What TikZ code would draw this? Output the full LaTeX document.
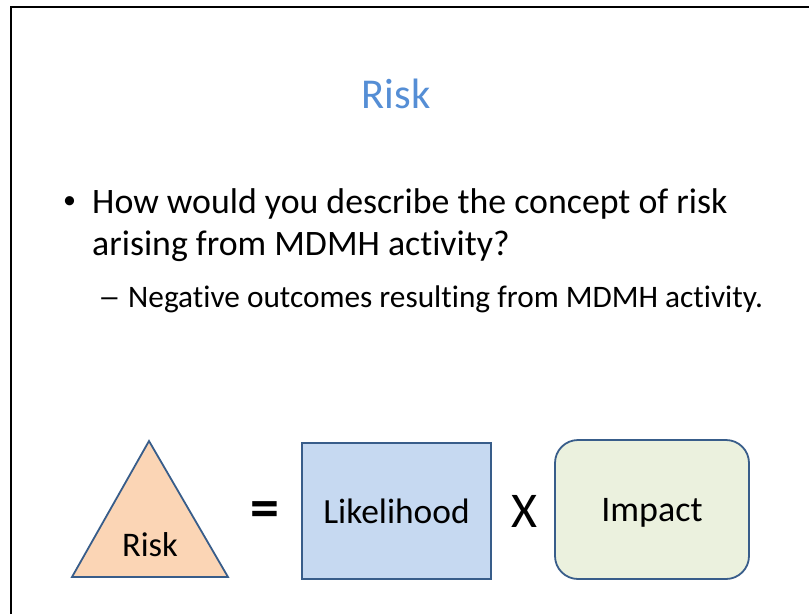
\documentclass[tikz,border=0pt]{standalone}
\usepackage{fontspec}
\setmainfont{Carlito}[Ligatures={NoCommon}]
\usepackage{xcolor}
\definecolor{titleblue}{RGB}{85,142,213}
\definecolor{edgeblue}{RGB}{56,93,138}
\definecolor{peach}{RGB}{251,213,181}
\definecolor{paleblue}{RGB}{198,217,241}
\definecolor{palegreen}{RGB}{235,241,222}

\begin{document}
\begin{tikzpicture}[
  x=1pt, y=-1pt,
  frame/.style={line width=2.2pt},
  bodytext/.style={anchor=base west,inner sep=0pt,font=\fontsize{35.8}{42}\selectfont},
  subtext/.style={anchor=base west,inner sep=0pt,font=\fontsize{31.3}{38}\selectfont},
  shapetext/.style={anchor=base,inner sep=0pt,font=\fontsize{34.5}{40}\selectfont},
  opsign/.style={inner sep=0pt,font=\fontsize{50}{60}\selectfont},
  factor/.style={draw=edgeblue,line width=1.8pt,inner sep=0pt,text depth=0pt}
]
  \useasboundingbox (0,0) rectangle (809,614);
  \draw[frame] (11.3,614) -- (11.3,6.8) -- (809,6.8);

  \node[anchor=base,inner sep=0pt,text=titleblue,font=\fontsize{42.5}{50}\selectfont] (title) at (396,108) {Risk};

  \node[anchor=center,inner sep=0pt,font=\fontsize{26}{30}\selectfont] (dot) at (69.5,202.5) {•};
  \node[bodytext] (q1) at (92,213) {How would you describe the concept of risk};
  \node[bodytext] (q2) at (92,255) {arising from MDMH activity?};
  \node[subtext] (dash) at (98,307) {\scalebox{1.45}[1]{–}};
  \node[subtext] (a1) at (128,307) {Negative outcomes resulting from MDMH activity.};

  \draw[fill=peach,draw=edgeblue,line width=1.8pt] (149,441) -- (228,577) -- (72,577) -- cycle;
  \node[shapetext] (risk) at (150,556) {Risk};
  \node[opsign,font=\bfseries\fontsize{58}{64}\selectfont] (eq) at (264.5,515) {=};
  \node[factor,fill=paleblue,minimum width=189pt,minimum height=136pt,font=\fontsize{35.4}{42}\selectfont] (likely) at (396.5,511) {Likelihood};
  \node[opsign] (times) at (524,511) {X};
  \node[factor,fill=palegreen,rounded corners=23pt,minimum width=194pt,minimum height=139pt,font=\fontsize{36}{42}\selectfont] (impact) at (652,509.5) {Impact};
\end{tikzpicture}
\end{document}
